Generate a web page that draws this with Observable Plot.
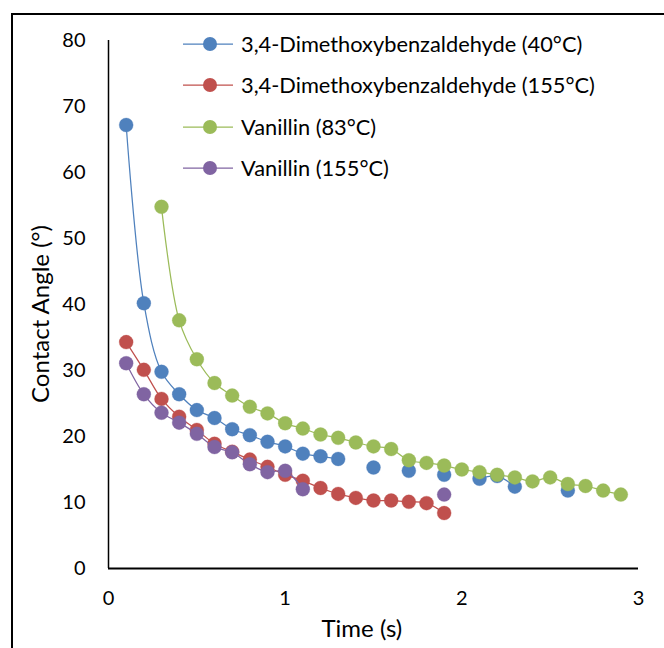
<!DOCTYPE html>
<html><head><meta charset="utf-8">
<script src="https://cdn.jsdelivr.net/npm/d3@7"></script>
<script src="https://cdn.jsdelivr.net/npm/@observablehq/plot@0.6"></script>
<style>
body{margin:0;background:#fff;}
#wrap{position:relative;width:664px;height:648px;overflow:hidden;font-family:Lato,"Liberation Sans",sans-serif;}
#frame{position:absolute;left:11px;top:13px;width:720px;height:720px;border:2px solid #000;box-sizing:border-box;}
#chart{position:absolute;left:0;top:0;}
.ttl{position:absolute;font-size:24px;color:#000;white-space:nowrap;line-height:1;}
</style></head><body>
<div id="wrap"><div id="frame"></div><div id="chart"></div>
<div class="ttl" id="xt">Time (s)</div>
<div class="ttl" id="yt">Contact Angle (°)</div>
</div>
<script>
const time = [0.1,0.2,0.3,0.4,0.5,0.6,0.7,0.8,0.9,1.0,1.1,1.2,1.3,1.4,1.5,1.6,1.7,1.8,1.9,2.0,2.1,2.2,2.3,2.4,2.5,2.6,2.7,2.8,2.9];
const seriesNames = ["3,4-Dimethoxybenzaldehyde (40°C)","3,4-Dimethoxybenzaldehyde (155°C)","Vanillin (83°C)","Vanillin (155°C)"];
const dmb40 = [67.2,40.2,29.8,26.4,24.0,22.8,21.1,20.2,19.2,18.5,17.4,17.0,16.6,null,15.3,null,14.8,null,14.2,null,13.6,14.0,12.4,null,null,11.8,null,null,null];
const dmb155 = [34.3,30.1,25.7,23.0,21.0,18.9,17.7,16.5,15.4,14.2,13.3,12.2,11.3,10.7,10.3,10.3,10.1,9.9,8.4,null,null,null,null,null,null,null,null,null,null];
const van83 = [null,null,54.8,37.6,31.7,28.1,26.2,24.5,23.5,22.0,21.2,20.3,19.8,19.1,18.5,18.1,16.4,16.0,15.6,15.0,14.6,14.2,13.8,13.2,13.8,12.8,12.5,11.8,11.2];
const van155 = [31.1,26.4,23.6,22.1,20.4,18.4,17.6,15.8,14.6,14.8,12.0,null,null,null,null,null,null,null,11.2,null,null,null,null,null,null,null,null,null,null];
const xTicks = [0,1,2,3];
const yTicks = [0,10,20,30,40,50,60,70,80];
const colors = ["#4F81BD","#C0504D","#9BBB59","#8064A2"];

const allValues = [dmb40, dmb155, van83, van155];
const rows = allValues.map((vals, i) => time.map((t, j) => ({t, v: vals[j], s: seriesNames[i]})));

const marks = [];
rows.forEach((r, i) => {
  marks.push(Plot.line(r, {x: "t", y: "v", stroke: colors[i], strokeWidth: 1.25, curve: "catmull-rom"}));
  marks.push(Plot.dot(r.filter(d => d.v != null), {x: "t", y: "v", r: 7, fill: colors[i], stroke: colors[i], strokeWidth: 0.5, strokeOpacity: 0.6}));
});

const W = 664, H = 648;
const plot = Plot.plot({
  width: W, height: H,
  marginLeft: 108, marginRight: 26, marginTop: 40, marginBottom: 80,
  style: {fontFamily: "Lato, 'Liberation Sans', sans-serif", fontSize: "20px", color: "#000", background: "transparent", overflow: "visible"},
  x: {domain: [0, 3], label: null},
  y: {domain: [0, 80], label: null},
  marks: [
    Plot.axisX({ticks: xTicks, tickFormat: d => String(d), tickSize: 0, tickPadding: 22, fontSize: 20, label: null}),
    Plot.axisY({ticks: yTicks, tickFormat: d => String(d), tickSize: 0, tickPadding: 23, fontSize: 20, label: null}),
    Plot.ruleX([0], {stroke: "#000", strokeWidth: 1.5}),
    Plot.ruleY([0], {stroke: "#000", strokeWidth: 2}),
    ...marks
  ]
});
document.getElementById("chart").appendChild(plot);

// legend
const svg = d3.select(plot);
const lg = svg.append("g")
  .attr("font-family", "Lato, 'Liberation Sans', sans-serif")
  .attr("font-size", 21.8)
  .attr("text-anchor", "start");
const ly = [44, 85, 127, 168];
seriesNames.forEach((name, i) => {
  const g = lg.append("g").attr("transform", `translate(183,${ly[i]})`);
  g.append("path").attr("d", "M0,0H50").attr("fill", "none").attr("stroke", colors[i]).attr("stroke-width", 1.25);
  g.append("circle").attr("cx", 27).attr("cy", 0).attr("r", 7).attr("fill", colors[i]);
  g.append("text").attr("x", 58).attr("y", 0).attr("dy", "0.35em").attr("text-anchor", "start").attr("fill", "#000").text(name);
});

const xt = document.getElementById("xt");
xt.style.left = (362 - xt.offsetWidth / 2) + "px";
xt.style.top = (628 - xt.offsetHeight / 2) + "px";
const yt = document.getElementById("yt");
yt.style.left = (40 - yt.offsetWidth / 2) + "px";
yt.style.top = (314 - yt.offsetHeight / 2) + "px";
yt.style.transform = "rotate(-90deg)";
</script>
</body></html>
